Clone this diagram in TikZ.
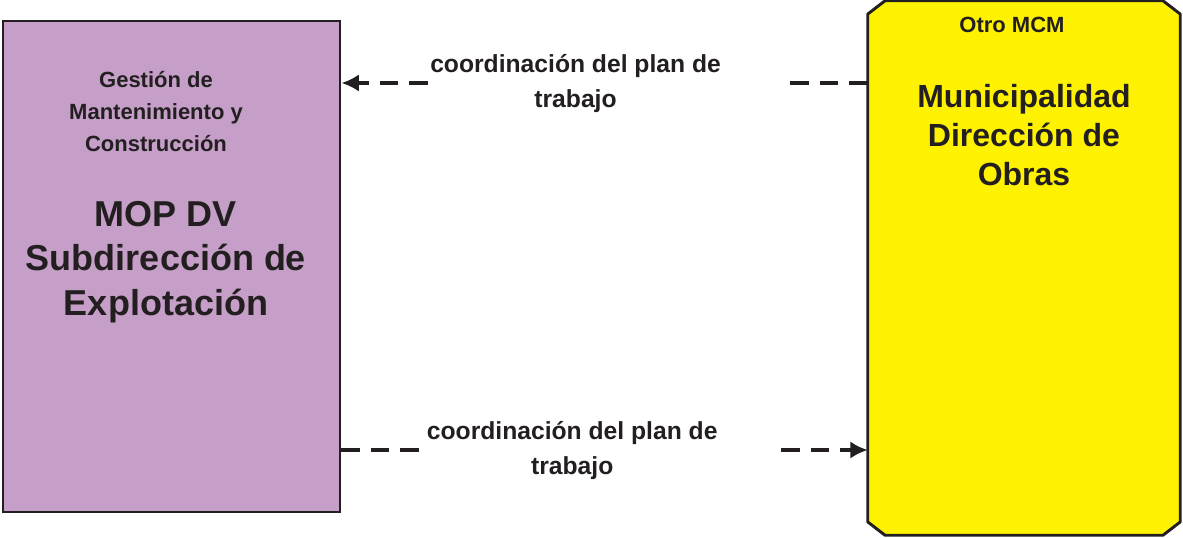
\documentclass[tikz,border=0pt]{standalone}
\usepackage{fontspec}
\setmainfont{Liberation Sans}
\usetikzlibrary{arrows.meta}
\definecolor{txt}{HTML}{231F20}
\definecolor{mopfill}{HTML}{C69FC8}
\definecolor{munfill}{HTML}{FFF200}
\begin{document}
\begin{tikzpicture}[x=0.75pt,y=-0.75pt,
 box/.style={draw=txt, line width=2.2pt, inner sep=0pt},
 conn/.style={draw=txt, line width=3pt, dash pattern=on 14pt off 8pt, -{Latex[length=13pt,width=13pt]}},
 lbl/.style={fill=white, inner xsep=0pt, inner ysep=2pt, text=txt, font=\bfseries\fontsize{18.5}{26}\selectfont},
 small/.style={text=txt, align=center, font=\bfseries\fontsize{16.5}{24}\selectfont},
 big/.style={text=txt, align=center, font=\bfseries\fontsize{27}{33.5}\selectfont},
 mid/.style={text=txt, align=center, font=\bfseries\fontsize{24}{29.5}\selectfont}]
\useasboundingbox (0,0) rectangle (1183,538);
\node[box, fill=mopfill, minimum width=252.75pt, minimum height=368.25pt] (L) at (171.5,266.5) {};
\node[inner sep=0pt, minimum width=234pt, minimum height=400.5pt] (R) at (1024,268) {};
\draw[box, fill=munfill, line join=round]
  ([yshift=-10pt]R.north west) -- ([xshift=13pt]R.north west) -- ([xshift=-13pt]R.north east)
  -- ([yshift=-10pt]R.north east) -- ([yshift=10pt]R.south east) -- ([xshift=-13pt]R.south east)
  -- ([xshift=13pt]R.south west) -- ([yshift=10pt]R.south west) -- cycle;
\node[small] (g) at (156,112) {Gestión de\\Mantenimiento y\\Construcción};
\node[big] (m) at (166,262) {MOP DV\\Subdirección de\\Explotación};
\node[small] (o) at (1012,25) {Otro MCM};
\node[mid] (mu) at (1024,135) {Municipalidad\\Dirección de\\Obras};
\coordinate (t1) at (600,83);
\coordinate (t2) at (600,450);
\draw[conn] (R.west |- t1) -- (L.east |- t1);
\draw[conn] (L.east |- t2) -- (R.west |- t2);
\node[lbl, anchor=west] (c1) at (430,83) {\begin{tabular}{@{}c@{}}coordinación del plan de\\trabajo\end{tabular}\hspace*{49pt}\null};
\node[lbl, anchor=west] (c2) at (420,450) {\hspace*{5pt}\begin{tabular}{@{}c@{}}coordinación del plan de\\trabajo\end{tabular}\hspace*{44pt}\null};
\end{tikzpicture}
\end{document}
